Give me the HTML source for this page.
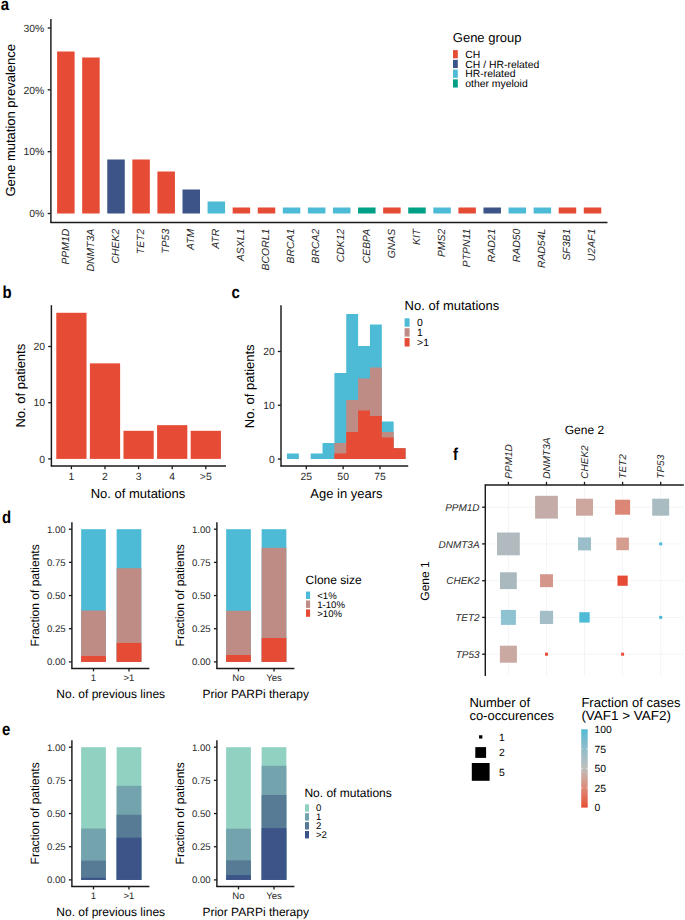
<!DOCTYPE html>
<html><head><meta charset="utf-8"><style>
html,body{margin:0;padding:0;background:#fff;}
svg{display:block;font-family:"Liberation Sans", sans-serif;text-rendering:geometricPrecision;}
</style></head><body>
<svg width="685" height="920" viewBox="0 0 685 920" shape-rendering="auto">
<rect width="685" height="920" fill="#fff"/>
<text transform="translate(0.80 10.20) scale(0.87 1)" font-size="17.2" font-weight="bold" fill="#000">a</text>
<text transform="translate(2.40 297.90) scale(0.87 1)" font-size="17.2" font-weight="bold" fill="#000">b</text>
<text transform="translate(231.60 298.20) scale(0.87 1)" font-size="17.2" font-weight="bold" fill="#000">c</text>
<text transform="translate(1.90 522.90) scale(0.87 1)" font-size="17.2" font-weight="bold" fill="#000">d</text>
<text transform="translate(1.90 735.20) scale(0.87 1)" font-size="17.2" font-weight="bold" fill="#000">e</text>
<text transform="translate(453.00 459.60) scale(0.87 1)" font-size="17.2" font-weight="bold" fill="#000">f</text>
<rect x="57.10" y="51.50" width="17.50" height="162.00" fill="#E64B35"/>
<text x="68.55" y="228.80" font-size="10.4" text-anchor="end" fill="#2A2A2A" font-style="italic" transform="rotate(-90 68.55 228.80)">PPM1D</text>
<rect x="82.18" y="57.50" width="17.50" height="156.00" fill="#E64B35"/>
<text x="93.63" y="228.80" font-size="10.4" text-anchor="end" fill="#2A2A2A" font-style="italic" transform="rotate(-90 93.63 228.80)">DNMT3A</text>
<rect x="107.26" y="159.50" width="17.50" height="54.00" fill="#3C5488"/>
<text x="118.71" y="228.80" font-size="10.4" text-anchor="end" fill="#2A2A2A" font-style="italic" transform="rotate(-90 118.71 228.80)">CHEK2</text>
<rect x="132.34" y="159.50" width="17.50" height="54.00" fill="#E64B35"/>
<text x="143.79" y="228.80" font-size="10.4" text-anchor="end" fill="#2A2A2A" font-style="italic" transform="rotate(-90 143.79 228.80)">TET2</text>
<rect x="157.42" y="171.50" width="17.50" height="42.00" fill="#E64B35"/>
<text x="168.87" y="228.80" font-size="10.4" text-anchor="end" fill="#2A2A2A" font-style="italic" transform="rotate(-90 168.87 228.80)">TP53</text>
<rect x="182.50" y="189.50" width="17.50" height="24.00" fill="#3C5488"/>
<text x="193.95" y="228.80" font-size="10.4" text-anchor="end" fill="#2A2A2A" font-style="italic" transform="rotate(-90 193.95 228.80)">ATM</text>
<rect x="207.58" y="201.50" width="17.50" height="12.00" fill="#4DBBD5"/>
<text x="219.03" y="228.80" font-size="10.4" text-anchor="end" fill="#2A2A2A" font-style="italic" transform="rotate(-90 219.03 228.80)">ATR</text>
<rect x="232.66" y="207.50" width="17.50" height="6.00" fill="#E64B35"/>
<text x="244.11" y="228.80" font-size="10.4" text-anchor="end" fill="#2A2A2A" font-style="italic" transform="rotate(-90 244.11 228.80)">ASXL1</text>
<rect x="257.74" y="207.50" width="17.50" height="6.00" fill="#E64B35"/>
<text x="269.19" y="228.80" font-size="10.4" text-anchor="end" fill="#2A2A2A" font-style="italic" transform="rotate(-90 269.19 228.80)">BCORL1</text>
<rect x="282.82" y="207.50" width="17.50" height="6.00" fill="#4DBBD5"/>
<text x="294.27" y="228.80" font-size="10.4" text-anchor="end" fill="#2A2A2A" font-style="italic" transform="rotate(-90 294.27 228.80)">BRCA1</text>
<rect x="307.90" y="207.50" width="17.50" height="6.00" fill="#4DBBD5"/>
<text x="319.35" y="228.80" font-size="10.4" text-anchor="end" fill="#2A2A2A" font-style="italic" transform="rotate(-90 319.35 228.80)">BRCA2</text>
<rect x="332.98" y="207.50" width="17.50" height="6.00" fill="#4DBBD5"/>
<text x="344.43" y="228.80" font-size="10.4" text-anchor="end" fill="#2A2A2A" font-style="italic" transform="rotate(-90 344.43 228.80)">CDK12</text>
<rect x="358.06" y="207.50" width="17.50" height="6.00" fill="#00A087"/>
<text x="369.51" y="228.80" font-size="10.4" text-anchor="end" fill="#2A2A2A" font-style="italic" transform="rotate(-90 369.51 228.80)">CEBPA</text>
<rect x="383.14" y="207.50" width="17.50" height="6.00" fill="#E64B35"/>
<text x="394.59" y="228.80" font-size="10.4" text-anchor="end" fill="#2A2A2A" font-style="italic" transform="rotate(-90 394.59 228.80)">GNAS</text>
<rect x="408.22" y="207.50" width="17.50" height="6.00" fill="#00A087"/>
<text x="419.67" y="228.80" font-size="10.4" text-anchor="end" fill="#2A2A2A" font-style="italic" transform="rotate(-90 419.67 228.80)">KIT</text>
<rect x="433.30" y="207.50" width="17.50" height="6.00" fill="#4DBBD5"/>
<text x="444.75" y="228.80" font-size="10.4" text-anchor="end" fill="#2A2A2A" font-style="italic" transform="rotate(-90 444.75 228.80)">PMS2</text>
<rect x="458.38" y="207.50" width="17.50" height="6.00" fill="#E64B35"/>
<text x="469.83" y="228.80" font-size="10.4" text-anchor="end" fill="#2A2A2A" font-style="italic" transform="rotate(-90 469.83 228.80)">PTPN11</text>
<rect x="483.46" y="207.50" width="17.50" height="6.00" fill="#3C5488"/>
<text x="494.91" y="228.80" font-size="10.4" text-anchor="end" fill="#2A2A2A" font-style="italic" transform="rotate(-90 494.91 228.80)">RAD21</text>
<rect x="508.54" y="207.50" width="17.50" height="6.00" fill="#4DBBD5"/>
<text x="519.99" y="228.80" font-size="10.4" text-anchor="end" fill="#2A2A2A" font-style="italic" transform="rotate(-90 519.99 228.80)">RAD50</text>
<rect x="533.62" y="207.50" width="17.50" height="6.00" fill="#4DBBD5"/>
<text x="545.07" y="228.80" font-size="10.4" text-anchor="end" fill="#2A2A2A" font-style="italic" transform="rotate(-90 545.07 228.80)">RAD54L</text>
<rect x="558.70" y="207.50" width="17.50" height="6.00" fill="#E64B35"/>
<text x="570.15" y="228.80" font-size="10.4" text-anchor="end" fill="#2A2A2A" font-style="italic" transform="rotate(-90 570.15 228.80)">SF3B1</text>
<rect x="583.78" y="207.50" width="17.50" height="6.00" fill="#E64B35"/>
<text x="595.23" y="228.80" font-size="10.4" text-anchor="end" fill="#2A2A2A" font-style="italic" transform="rotate(-90 595.23 228.80)">U2AF1</text>
<line x1="50.90" y1="18.90" x2="50.90" y2="222.90" stroke="#1a1a1a" stroke-width="1.45"/>
<line x1="50.40" y1="222.40" x2="607.50" y2="222.40" stroke="#1a1a1a" stroke-width="1.45"/>
<line x1="47.70" y1="213.50" x2="50.90" y2="213.50" stroke="#1a1a1a" stroke-width="1.3"/>
<text x="44.30" y="217.22" font-size="10.4" text-anchor="end" fill="#2A2A2A">0%</text>
<line x1="47.70" y1="151.67" x2="50.90" y2="151.67" stroke="#1a1a1a" stroke-width="1.3"/>
<text x="44.30" y="155.39" font-size="10.4" text-anchor="end" fill="#2A2A2A">10%</text>
<line x1="47.70" y1="89.84" x2="50.90" y2="89.84" stroke="#1a1a1a" stroke-width="1.3"/>
<text x="44.30" y="93.56" font-size="10.4" text-anchor="end" fill="#2A2A2A">20%</text>
<line x1="47.70" y1="28.01" x2="50.90" y2="28.01" stroke="#1a1a1a" stroke-width="1.3"/>
<text x="44.30" y="31.73" font-size="10.4" text-anchor="end" fill="#2A2A2A">30%</text>
<text x="15.40" y="120.30" font-size="13" text-anchor="middle" fill="#000000" transform="rotate(-90 15.40 120.30)">Gene mutation prevalence</text>
<text x="452.80" y="41.80" font-size="13" text-anchor="start" fill="#000000">Gene group</text>
<rect x="453.00" y="50.10" width="4.80" height="8.20" fill="#E64B35"/>
<text x="465.30" y="57.92" font-size="10.4" text-anchor="start" fill="#000000">CH</text>
<rect x="453.00" y="59.85" width="4.80" height="8.20" fill="#3C5488"/>
<text x="465.30" y="67.67" font-size="10.4" text-anchor="start" fill="#000000">CH / HR-related</text>
<rect x="453.00" y="69.60" width="4.80" height="8.20" fill="#4DBBD5"/>
<text x="465.30" y="77.42" font-size="10.4" text-anchor="start" fill="#000000">HR-related</text>
<rect x="453.00" y="79.35" width="4.80" height="8.20" fill="#00A087"/>
<text x="465.30" y="87.17" font-size="10.4" text-anchor="start" fill="#000000">other myeloid</text>
<rect x="56.28" y="312.78" width="30.24" height="146.12" fill="#E64B35"/>
<line x1="71.40" y1="466.00" x2="71.40" y2="469.20" stroke="#1a1a1a" stroke-width="1.3"/>
<text x="71.40" y="480.12" font-size="10.4" text-anchor="middle" fill="#2A2A2A">1</text>
<rect x="89.88" y="363.36" width="30.24" height="95.54" fill="#E64B35"/>
<line x1="105.00" y1="466.00" x2="105.00" y2="469.20" stroke="#1a1a1a" stroke-width="1.3"/>
<text x="105.00" y="480.12" font-size="10.4" text-anchor="middle" fill="#2A2A2A">2</text>
<rect x="123.48" y="430.80" width="30.24" height="28.10" fill="#E64B35"/>
<line x1="138.60" y1="466.00" x2="138.60" y2="469.20" stroke="#1a1a1a" stroke-width="1.3"/>
<text x="138.60" y="480.12" font-size="10.4" text-anchor="middle" fill="#2A2A2A">3</text>
<rect x="157.08" y="425.18" width="30.24" height="33.72" fill="#E64B35"/>
<line x1="172.20" y1="466.00" x2="172.20" y2="469.20" stroke="#1a1a1a" stroke-width="1.3"/>
<text x="172.20" y="480.12" font-size="10.4" text-anchor="middle" fill="#2A2A2A">4</text>
<rect x="190.68" y="430.80" width="30.24" height="28.10" fill="#E64B35"/>
<line x1="205.80" y1="466.00" x2="205.80" y2="469.20" stroke="#1a1a1a" stroke-width="1.3"/>
<text x="205.80" y="480.12" font-size="10.4" text-anchor="middle" fill="#2A2A2A">&gt;5</text>
<line x1="51.40" y1="305.20" x2="51.40" y2="466.50" stroke="#1a1a1a" stroke-width="1.45"/>
<line x1="50.90" y1="466.00" x2="226.00" y2="466.00" stroke="#1a1a1a" stroke-width="1.45"/>
<line x1="48.20" y1="458.90" x2="51.40" y2="458.90" stroke="#1a1a1a" stroke-width="1.3"/>
<text x="45.10" y="462.62" font-size="10.4" text-anchor="end" fill="#2A2A2A">0</text>
<line x1="48.20" y1="402.70" x2="51.40" y2="402.70" stroke="#1a1a1a" stroke-width="1.3"/>
<text x="45.10" y="406.42" font-size="10.4" text-anchor="end" fill="#2A2A2A">10</text>
<line x1="48.20" y1="346.50" x2="51.40" y2="346.50" stroke="#1a1a1a" stroke-width="1.3"/>
<text x="45.10" y="350.22" font-size="10.4" text-anchor="end" fill="#2A2A2A">20</text>
<text x="138.00" y="497.85" font-size="13" text-anchor="middle" fill="#000000">No. of mutations</text>
<text x="24.60" y="385.70" font-size="13" text-anchor="middle" fill="#000000" transform="rotate(-90 24.60 385.70)">No. of patients</text>
<path d="M287.00 459.00H298.85V453.62H287.00ZM310.70 459.00H322.55V453.62H310.70ZM322.55 459.00H334.40V442.88H322.55ZM334.40 459.00H346.25V373.00H334.40ZM346.25 459.00H358.10V313.88H346.25ZM358.10 459.00H369.95V346.12H358.10ZM369.95 459.00H381.80V324.62H369.95ZM381.80 459.00H393.65V421.38H381.80ZM393.65 459.00H405.50V448.25H393.65Z" fill="#4DBBD5"/>
<path d="M334.40 459.00H346.25V442.88H334.40ZM346.25 459.00H358.10V399.88H346.25ZM358.10 459.00H369.95V378.38H358.10ZM369.95 459.00H381.80V367.62H369.95ZM381.80 459.00H393.65V432.12H381.80ZM393.65 459.00H405.50V448.25H393.65Z" fill="#BF8C85"/>
<path d="M334.40 459.00H346.25V453.62H334.40ZM346.25 459.00H358.10V432.12H346.25ZM358.10 459.00H369.95V410.62H358.10ZM369.95 459.00H381.80V416.00H369.95ZM381.80 459.00H393.65V437.50H381.80ZM393.65 459.00H405.50V448.25H393.65Z" fill="#E64B35"/>
<line x1="281.00" y1="305.20" x2="281.00" y2="466.50" stroke="#1a1a1a" stroke-width="1.45"/>
<line x1="280.50" y1="466.00" x2="408.20" y2="466.00" stroke="#1a1a1a" stroke-width="1.45"/>
<line x1="277.80" y1="459.00" x2="281.00" y2="459.00" stroke="#1a1a1a" stroke-width="1.3"/>
<text x="274.70" y="462.72" font-size="10.4" text-anchor="end" fill="#2A2A2A">0</text>
<line x1="277.80" y1="405.25" x2="281.00" y2="405.25" stroke="#1a1a1a" stroke-width="1.3"/>
<text x="274.70" y="408.97" font-size="10.4" text-anchor="end" fill="#2A2A2A">10</text>
<line x1="277.80" y1="351.50" x2="281.00" y2="351.50" stroke="#1a1a1a" stroke-width="1.3"/>
<text x="274.70" y="355.22" font-size="10.4" text-anchor="end" fill="#2A2A2A">20</text>
<line x1="306.30" y1="466.00" x2="306.30" y2="469.20" stroke="#1a1a1a" stroke-width="1.3"/>
<text x="306.30" y="480.12" font-size="10.4" text-anchor="middle" fill="#2A2A2A">25</text>
<line x1="343.15" y1="466.00" x2="343.15" y2="469.20" stroke="#1a1a1a" stroke-width="1.3"/>
<text x="343.15" y="480.12" font-size="10.4" text-anchor="middle" fill="#2A2A2A">50</text>
<line x1="380.00" y1="466.00" x2="380.00" y2="469.20" stroke="#1a1a1a" stroke-width="1.3"/>
<text x="380.00" y="480.12" font-size="10.4" text-anchor="middle" fill="#2A2A2A">75</text>
<text x="346.40" y="498.15" font-size="13" text-anchor="middle" fill="#000000">Age in years</text>
<text x="254.00" y="386.30" font-size="13" text-anchor="middle" fill="#000000" transform="rotate(-90 254.00 386.30)">No. of patients</text>
<text x="404.60" y="309.80" font-size="13" text-anchor="start" fill="#000000">No. of mutations</text>
<rect x="404.60" y="318.30" width="5.00" height="8.40" fill="#4DBBD5"/>
<text x="417.10" y="326.22" font-size="10.4" text-anchor="start" fill="#000000">0</text>
<rect x="404.60" y="328.20" width="5.00" height="8.40" fill="#BF8C85"/>
<text x="417.10" y="336.12" font-size="10.4" text-anchor="start" fill="#000000">1</text>
<rect x="404.60" y="338.10" width="5.00" height="8.40" fill="#E64B35"/>
<text x="417.10" y="346.02" font-size="10.4" text-anchor="start" fill="#000000">&gt;1</text>
<rect x="81.15" y="529.20" width="24.70" height="132.70" fill="#4DBBD5"/>
<rect x="81.15" y="610.55" width="24.70" height="51.35" fill="#BF8C85"/>
<rect x="81.15" y="655.93" width="24.70" height="5.97" fill="#E64B35"/>
<line x1="93.50" y1="668.40" x2="93.50" y2="671.40" stroke="#1a1a1a" stroke-width="1.3"/>
<text x="93.50" y="681.34" font-size="9.6" text-anchor="middle" fill="#2A2A2A">1</text>
<rect x="116.65" y="529.20" width="24.70" height="132.70" fill="#4DBBD5"/>
<rect x="116.65" y="568.21" width="24.70" height="93.69" fill="#BF8C85"/>
<rect x="116.65" y="642.92" width="24.70" height="18.98" fill="#E64B35"/>
<line x1="129.00" y1="668.40" x2="129.00" y2="671.40" stroke="#1a1a1a" stroke-width="1.3"/>
<text x="129.00" y="681.34" font-size="9.6" text-anchor="middle" fill="#2A2A2A">&gt;1</text>
<line x1="71.90" y1="522.30" x2="71.90" y2="668.90" stroke="#1a1a1a" stroke-width="1.45"/>
<line x1="71.40" y1="668.40" x2="149.40" y2="668.40" stroke="#1a1a1a" stroke-width="1.45"/>
<line x1="68.90" y1="661.90" x2="71.90" y2="661.90" stroke="#1a1a1a" stroke-width="1.3"/>
<text x="65.70" y="665.34" font-size="9.6" text-anchor="end" fill="#2A2A2A">0.00</text>
<line x1="68.90" y1="628.73" x2="71.90" y2="628.73" stroke="#1a1a1a" stroke-width="1.3"/>
<text x="65.70" y="632.16" font-size="9.6" text-anchor="end" fill="#2A2A2A">0.25</text>
<line x1="68.90" y1="595.55" x2="71.90" y2="595.55" stroke="#1a1a1a" stroke-width="1.3"/>
<text x="65.70" y="598.99" font-size="9.6" text-anchor="end" fill="#2A2A2A">0.50</text>
<line x1="68.90" y1="562.38" x2="71.90" y2="562.38" stroke="#1a1a1a" stroke-width="1.3"/>
<text x="65.70" y="565.81" font-size="9.6" text-anchor="end" fill="#2A2A2A">0.75</text>
<line x1="68.90" y1="529.20" x2="71.90" y2="529.20" stroke="#1a1a1a" stroke-width="1.3"/>
<text x="65.70" y="532.64" font-size="9.6" text-anchor="end" fill="#2A2A2A">1.00</text>
<text x="110.70" y="697.50" font-size="12" text-anchor="middle" fill="#000000">No. of previous lines</text>
<text x="39.40" y="595.35" font-size="12" text-anchor="middle" fill="#000000" transform="rotate(-90 39.40 595.35)">Fraction of patients</text>
<rect x="226.15" y="529.20" width="24.70" height="132.70" fill="#4DBBD5"/>
<rect x="226.15" y="610.81" width="24.70" height="51.09" fill="#BF8C85"/>
<rect x="226.15" y="655.00" width="24.70" height="6.90" fill="#E64B35"/>
<line x1="238.50" y1="668.40" x2="238.50" y2="671.40" stroke="#1a1a1a" stroke-width="1.3"/>
<text x="238.50" y="681.34" font-size="9.6" text-anchor="middle" fill="#2A2A2A">No</text>
<rect x="261.65" y="529.20" width="24.70" height="132.70" fill="#4DBBD5"/>
<rect x="261.65" y="547.78" width="24.70" height="114.12" fill="#BF8C85"/>
<rect x="261.65" y="638.01" width="24.70" height="23.89" fill="#E64B35"/>
<line x1="274.00" y1="668.40" x2="274.00" y2="671.40" stroke="#1a1a1a" stroke-width="1.3"/>
<text x="274.00" y="681.34" font-size="9.6" text-anchor="middle" fill="#2A2A2A">Yes</text>
<line x1="216.90" y1="522.30" x2="216.90" y2="668.90" stroke="#1a1a1a" stroke-width="1.45"/>
<line x1="216.40" y1="668.40" x2="294.40" y2="668.40" stroke="#1a1a1a" stroke-width="1.45"/>
<line x1="213.90" y1="661.90" x2="216.90" y2="661.90" stroke="#1a1a1a" stroke-width="1.3"/>
<text x="210.70" y="665.34" font-size="9.6" text-anchor="end" fill="#2A2A2A">0.00</text>
<line x1="213.90" y1="628.73" x2="216.90" y2="628.73" stroke="#1a1a1a" stroke-width="1.3"/>
<text x="210.70" y="632.16" font-size="9.6" text-anchor="end" fill="#2A2A2A">0.25</text>
<line x1="213.90" y1="595.55" x2="216.90" y2="595.55" stroke="#1a1a1a" stroke-width="1.3"/>
<text x="210.70" y="598.99" font-size="9.6" text-anchor="end" fill="#2A2A2A">0.50</text>
<line x1="213.90" y1="562.38" x2="216.90" y2="562.38" stroke="#1a1a1a" stroke-width="1.3"/>
<text x="210.70" y="565.81" font-size="9.6" text-anchor="end" fill="#2A2A2A">0.75</text>
<line x1="213.90" y1="529.20" x2="216.90" y2="529.20" stroke="#1a1a1a" stroke-width="1.3"/>
<text x="210.70" y="532.64" font-size="9.6" text-anchor="end" fill="#2A2A2A">1.00</text>
<text x="255.70" y="697.50" font-size="12" text-anchor="middle" fill="#000000">Prior PARPi therapy</text>
<text x="184.40" y="595.35" font-size="12" text-anchor="middle" fill="#000000" transform="rotate(-90 184.40 595.35)">Fraction of patients</text>
<text x="305.60" y="584.00" font-size="12" text-anchor="start" fill="#000000">Clone size</text>
<rect x="306.00" y="591.60" width="4.10" height="7.40" fill="#4DBBD5"/>
<text x="317.20" y="598.74" font-size="9.6" text-anchor="start" fill="#000000">&lt;1%</text>
<rect x="306.00" y="600.50" width="4.10" height="7.40" fill="#BF8C85"/>
<text x="317.20" y="607.64" font-size="9.6" text-anchor="start" fill="#000000">1-10%</text>
<rect x="306.00" y="609.40" width="4.10" height="7.40" fill="#E64B35"/>
<text x="317.20" y="616.54" font-size="9.6" text-anchor="start" fill="#000000">&gt;10%</text>
<rect x="81.15" y="747.20" width="24.70" height="132.70" fill="#91D1C2"/>
<rect x="81.15" y="828.55" width="24.70" height="51.35" fill="#73A3AC"/>
<rect x="81.15" y="860.66" width="24.70" height="19.24" fill="#577A95"/>
<rect x="81.15" y="877.78" width="24.70" height="2.12" fill="#3C5488"/>
<line x1="93.50" y1="886.40" x2="93.50" y2="889.40" stroke="#1a1a1a" stroke-width="1.3"/>
<text x="93.50" y="899.34" font-size="9.6" text-anchor="middle" fill="#2A2A2A">1</text>
<rect x="116.65" y="747.20" width="24.70" height="132.70" fill="#91D1C2"/>
<rect x="116.65" y="785.82" width="24.70" height="94.08" fill="#73A3AC"/>
<rect x="116.65" y="814.74" width="24.70" height="65.16" fill="#577A95"/>
<rect x="116.65" y="837.70" width="24.70" height="42.20" fill="#3C5488"/>
<line x1="129.00" y1="886.40" x2="129.00" y2="889.40" stroke="#1a1a1a" stroke-width="1.3"/>
<text x="129.00" y="899.34" font-size="9.6" text-anchor="middle" fill="#2A2A2A">&gt;1</text>
<line x1="71.90" y1="740.30" x2="71.90" y2="886.90" stroke="#1a1a1a" stroke-width="1.45"/>
<line x1="71.40" y1="886.40" x2="149.40" y2="886.40" stroke="#1a1a1a" stroke-width="1.45"/>
<line x1="68.90" y1="879.90" x2="71.90" y2="879.90" stroke="#1a1a1a" stroke-width="1.3"/>
<text x="65.70" y="883.34" font-size="9.6" text-anchor="end" fill="#2A2A2A">0.00</text>
<line x1="68.90" y1="846.73" x2="71.90" y2="846.73" stroke="#1a1a1a" stroke-width="1.3"/>
<text x="65.70" y="850.16" font-size="9.6" text-anchor="end" fill="#2A2A2A">0.25</text>
<line x1="68.90" y1="813.55" x2="71.90" y2="813.55" stroke="#1a1a1a" stroke-width="1.3"/>
<text x="65.70" y="816.99" font-size="9.6" text-anchor="end" fill="#2A2A2A">0.50</text>
<line x1="68.90" y1="780.38" x2="71.90" y2="780.38" stroke="#1a1a1a" stroke-width="1.3"/>
<text x="65.70" y="783.81" font-size="9.6" text-anchor="end" fill="#2A2A2A">0.75</text>
<line x1="68.90" y1="747.20" x2="71.90" y2="747.20" stroke="#1a1a1a" stroke-width="1.3"/>
<text x="65.70" y="750.64" font-size="9.6" text-anchor="end" fill="#2A2A2A">1.00</text>
<text x="110.70" y="915.50" font-size="12" text-anchor="middle" fill="#000000">No. of previous lines</text>
<text x="39.40" y="813.35" font-size="12" text-anchor="middle" fill="#000000" transform="rotate(-90 39.40 813.35)">Fraction of patients</text>
<rect x="226.15" y="747.20" width="24.70" height="132.70" fill="#91D1C2"/>
<rect x="226.15" y="828.68" width="24.70" height="51.22" fill="#73A3AC"/>
<rect x="226.15" y="860.39" width="24.70" height="19.51" fill="#577A95"/>
<rect x="226.15" y="875.12" width="24.70" height="4.78" fill="#3C5488"/>
<line x1="238.50" y1="886.40" x2="238.50" y2="889.40" stroke="#1a1a1a" stroke-width="1.3"/>
<text x="238.50" y="899.34" font-size="9.6" text-anchor="middle" fill="#2A2A2A">No</text>
<rect x="261.65" y="747.20" width="24.70" height="132.70" fill="#91D1C2"/>
<rect x="261.65" y="765.78" width="24.70" height="114.12" fill="#73A3AC"/>
<rect x="261.65" y="794.97" width="24.70" height="84.93" fill="#577A95"/>
<rect x="261.65" y="828.15" width="24.70" height="51.75" fill="#3C5488"/>
<line x1="274.00" y1="886.40" x2="274.00" y2="889.40" stroke="#1a1a1a" stroke-width="1.3"/>
<text x="274.00" y="899.34" font-size="9.6" text-anchor="middle" fill="#2A2A2A">Yes</text>
<line x1="216.90" y1="740.30" x2="216.90" y2="886.90" stroke="#1a1a1a" stroke-width="1.45"/>
<line x1="216.40" y1="886.40" x2="294.40" y2="886.40" stroke="#1a1a1a" stroke-width="1.45"/>
<line x1="213.90" y1="879.90" x2="216.90" y2="879.90" stroke="#1a1a1a" stroke-width="1.3"/>
<text x="210.70" y="883.34" font-size="9.6" text-anchor="end" fill="#2A2A2A">0.00</text>
<line x1="213.90" y1="846.73" x2="216.90" y2="846.73" stroke="#1a1a1a" stroke-width="1.3"/>
<text x="210.70" y="850.16" font-size="9.6" text-anchor="end" fill="#2A2A2A">0.25</text>
<line x1="213.90" y1="813.55" x2="216.90" y2="813.55" stroke="#1a1a1a" stroke-width="1.3"/>
<text x="210.70" y="816.99" font-size="9.6" text-anchor="end" fill="#2A2A2A">0.50</text>
<line x1="213.90" y1="780.38" x2="216.90" y2="780.38" stroke="#1a1a1a" stroke-width="1.3"/>
<text x="210.70" y="783.81" font-size="9.6" text-anchor="end" fill="#2A2A2A">0.75</text>
<line x1="213.90" y1="747.20" x2="216.90" y2="747.20" stroke="#1a1a1a" stroke-width="1.3"/>
<text x="210.70" y="750.64" font-size="9.6" text-anchor="end" fill="#2A2A2A">1.00</text>
<text x="255.70" y="915.50" font-size="12" text-anchor="middle" fill="#000000">Prior PARPi therapy</text>
<text x="184.40" y="813.35" font-size="12" text-anchor="middle" fill="#000000" transform="rotate(-90 184.40 813.35)">Fraction of patients</text>
<text x="304.40" y="797.20" font-size="12" text-anchor="start" fill="#000000">No. of mutations</text>
<rect x="305.00" y="804.30" width="4.00" height="7.40" fill="#91D1C2"/>
<text x="316.00" y="811.44" font-size="9.6" text-anchor="start" fill="#000000">0</text>
<rect x="305.00" y="813.20" width="4.00" height="7.40" fill="#73A3AC"/>
<text x="316.00" y="820.34" font-size="9.6" text-anchor="start" fill="#000000">1</text>
<rect x="305.00" y="822.10" width="4.00" height="7.40" fill="#577A95"/>
<text x="316.00" y="829.24" font-size="9.6" text-anchor="start" fill="#000000">2</text>
<rect x="305.00" y="831.00" width="4.00" height="7.40" fill="#3C5488"/>
<text x="316.00" y="838.14" font-size="9.6" text-anchor="start" fill="#000000">&gt;2</text>
<line x1="508.40" y1="485.00" x2="508.40" y2="676.00" stroke="#EBEBEB" stroke-width="0.55"/>
<line x1="546.50" y1="485.00" x2="546.50" y2="676.00" stroke="#EBEBEB" stroke-width="0.55"/>
<line x1="584.50" y1="485.00" x2="584.50" y2="676.00" stroke="#EBEBEB" stroke-width="0.55"/>
<line x1="622.60" y1="485.00" x2="622.60" y2="676.00" stroke="#EBEBEB" stroke-width="0.55"/>
<line x1="660.70" y1="485.00" x2="660.70" y2="676.00" stroke="#EBEBEB" stroke-width="0.55"/>
<line x1="485.30" y1="507.20" x2="683.50" y2="507.20" stroke="#EBEBEB" stroke-width="0.55"/>
<line x1="485.30" y1="543.90" x2="683.50" y2="543.90" stroke="#EBEBEB" stroke-width="0.55"/>
<line x1="485.30" y1="580.70" x2="683.50" y2="580.70" stroke="#EBEBEB" stroke-width="0.55"/>
<line x1="485.30" y1="617.40" x2="683.50" y2="617.40" stroke="#EBEBEB" stroke-width="0.55"/>
<line x1="485.30" y1="654.20" x2="683.50" y2="654.20" stroke="#EBEBEB" stroke-width="0.55"/>
<rect x="535.10" y="495.80" width="22.80" height="22.80" fill="#C4ADA8"/>
<rect x="576.00" y="498.70" width="17.00" height="17.00" fill="#CDA69E"/>
<rect x="615.10" y="499.70" width="15.00" height="15.00" fill="#DC8776"/>
<rect x="652.20" y="498.70" width="17.00" height="17.00" fill="#A9BCC2"/>
<rect x="497.00" y="532.50" width="22.80" height="22.80" fill="#B1BBBF"/>
<rect x="578.00" y="537.40" width="13.00" height="13.00" fill="#9BBFCA"/>
<rect x="616.30" y="537.60" width="12.60" height="12.60" fill="#D59C90"/>
<rect x="659.20" y="542.40" width="3.00" height="3.00" fill="#4DBBD5"/>
<rect x="500.00" y="572.30" width="16.80" height="16.80" fill="#AAB9BE"/>
<rect x="540.05" y="574.25" width="12.90" height="12.90" fill="#D4968A"/>
<rect x="617.50" y="575.60" width="10.20" height="10.20" fill="#E64B35"/>
<rect x="500.90" y="609.90" width="15.00" height="15.00" fill="#8FC3D1"/>
<rect x="539.90" y="610.80" width="13.20" height="13.20" fill="#A3BEC6"/>
<rect x="579.30" y="612.20" width="10.40" height="10.40" fill="#4DBBD5"/>
<rect x="659.20" y="615.90" width="3.00" height="3.00" fill="#4DBBD5"/>
<rect x="499.90" y="645.70" width="17.00" height="17.00" fill="#C9A9A2"/>
<rect x="545.00" y="652.70" width="3.00" height="3.00" fill="#E64B35"/>
<rect x="621.10" y="652.70" width="3.00" height="3.00" fill="#E64B35"/>
<line x1="485.30" y1="484.50" x2="485.30" y2="676.00" stroke="#1a1a1a" stroke-width="1.45"/>
<line x1="484.80" y1="485.00" x2="683.80" y2="485.00" stroke="#1a1a1a" stroke-width="1.45"/>
<line x1="508.40" y1="481.80" x2="508.40" y2="485.00" stroke="#1a1a1a" stroke-width="1.3"/>
<text x="512.00" y="478.70" font-size="10" text-anchor="start" fill="#2A2A2A" font-style="italic" transform="rotate(-90 512.00 478.70)">PPM1D</text>
<line x1="482.10" y1="507.20" x2="485.30" y2="507.20" stroke="#1a1a1a" stroke-width="1.3"/>
<text x="479.60" y="510.88" font-size="10" text-anchor="end" fill="#2A2A2A" font-style="italic">PPM1D</text>
<line x1="546.50" y1="481.80" x2="546.50" y2="485.00" stroke="#1a1a1a" stroke-width="1.3"/>
<text x="550.10" y="478.70" font-size="10" text-anchor="start" fill="#2A2A2A" font-style="italic" transform="rotate(-90 550.10 478.70)">DNMT3A</text>
<line x1="482.10" y1="543.90" x2="485.30" y2="543.90" stroke="#1a1a1a" stroke-width="1.3"/>
<text x="479.60" y="547.58" font-size="10" text-anchor="end" fill="#2A2A2A" font-style="italic">DNMT3A</text>
<line x1="584.50" y1="481.80" x2="584.50" y2="485.00" stroke="#1a1a1a" stroke-width="1.3"/>
<text x="588.10" y="478.70" font-size="10" text-anchor="start" fill="#2A2A2A" font-style="italic" transform="rotate(-90 588.10 478.70)">CHEK2</text>
<line x1="482.10" y1="580.70" x2="485.30" y2="580.70" stroke="#1a1a1a" stroke-width="1.3"/>
<text x="479.60" y="584.38" font-size="10" text-anchor="end" fill="#2A2A2A" font-style="italic">CHEK2</text>
<line x1="622.60" y1="481.80" x2="622.60" y2="485.00" stroke="#1a1a1a" stroke-width="1.3"/>
<text x="626.20" y="478.70" font-size="10" text-anchor="start" fill="#2A2A2A" font-style="italic" transform="rotate(-90 626.20 478.70)">TET2</text>
<line x1="482.10" y1="617.40" x2="485.30" y2="617.40" stroke="#1a1a1a" stroke-width="1.3"/>
<text x="479.60" y="621.08" font-size="10" text-anchor="end" fill="#2A2A2A" font-style="italic">TET2</text>
<line x1="660.70" y1="481.80" x2="660.70" y2="485.00" stroke="#1a1a1a" stroke-width="1.3"/>
<text x="664.30" y="478.70" font-size="10" text-anchor="start" fill="#2A2A2A" font-style="italic" transform="rotate(-90 664.30 478.70)">TP53</text>
<line x1="482.10" y1="654.20" x2="485.30" y2="654.20" stroke="#1a1a1a" stroke-width="1.3"/>
<text x="479.60" y="657.88" font-size="10" text-anchor="end" fill="#2A2A2A" font-style="italic">TP53</text>
<text x="584.40" y="433.90" font-size="12" text-anchor="middle" fill="#000000">Gene 2</text>
<text x="429.40" y="581.00" font-size="12" text-anchor="middle" fill="#000000" transform="rotate(-90 429.40 581.00)">Gene 1</text>
<text x="469.40" y="706.50" font-size="13" text-anchor="start" fill="#000000">Number of</text>
<text x="469.40" y="720.00" font-size="13" text-anchor="start" fill="#000000">co-occurences</text>
<rect x="479.05" y="735.25" width="3.30" height="3.30" fill="#000"/>
<text x="498.90" y="740.72" font-size="10.4" text-anchor="start" fill="#000000">1</text>
<rect x="475.30" y="747.10" width="10.80" height="10.80" fill="#000"/>
<text x="498.90" y="756.32" font-size="10.4" text-anchor="start" fill="#000000">2</text>
<rect x="471.80" y="763.00" width="17.80" height="17.80" fill="#000"/>
<text x="498.90" y="775.72" font-size="10.4" text-anchor="start" fill="#000000">5</text>
<text x="581.40" y="706.50" font-size="13" text-anchor="start" fill="#000000">Fraction of cases</text>
<text x="581.40" y="720.40" font-size="13" text-anchor="start" fill="#000000" textLength="89.6" lengthAdjust="spacingAndGlyphs">(VAF1 &gt; VAF2)</text>
<defs><linearGradient id="cb" x1="0" y1="0" x2="0" y2="1"><stop offset="0.000" stop-color="#4DBBD5"/><stop offset="0.050" stop-color="#5FBBD3"/><stop offset="0.100" stop-color="#6DBCD0"/><stop offset="0.150" stop-color="#7ABCCE"/><stop offset="0.200" stop-color="#86BDCC"/><stop offset="0.250" stop-color="#90BDCA"/><stop offset="0.300" stop-color="#9BBDC7"/><stop offset="0.350" stop-color="#A4BDC5"/><stop offset="0.400" stop-color="#ADBEC3"/><stop offset="0.450" stop-color="#B6BEC0"/><stop offset="0.500" stop-color="#BEBEBE"/><stop offset="0.550" stop-color="#C6B4B0"/><stop offset="0.600" stop-color="#CDAAA1"/><stop offset="0.650" stop-color="#D39F93"/><stop offset="0.700" stop-color="#D89585"/><stop offset="0.750" stop-color="#DC8A78"/><stop offset="0.800" stop-color="#DF7F6A"/><stop offset="0.850" stop-color="#E2735D"/><stop offset="0.900" stop-color="#E4674F"/><stop offset="0.950" stop-color="#E55A42"/><stop offset="1.000" stop-color="#E64B35"/></linearGradient></defs>
<rect x="581.20" y="729.30" width="6.50" height="78.30" fill="url(#cb)"/>
<text x="594.40" y="733.22" font-size="10.4" text-anchor="start" fill="#000000">100</text>
<line x1="581.20" y1="748.90" x2="582.60" y2="748.90" stroke="#fff" stroke-width="0.6"/>
<line x1="586.30" y1="748.90" x2="587.70" y2="748.90" stroke="#fff" stroke-width="0.6"/>
<text x="594.40" y="752.62" font-size="10.4" text-anchor="start" fill="#000000">75</text>
<line x1="581.20" y1="768.50" x2="582.60" y2="768.50" stroke="#fff" stroke-width="0.6"/>
<line x1="586.30" y1="768.50" x2="587.70" y2="768.50" stroke="#fff" stroke-width="0.6"/>
<text x="594.40" y="772.22" font-size="10.4" text-anchor="start" fill="#000000">50</text>
<line x1="581.20" y1="787.80" x2="582.60" y2="787.80" stroke="#fff" stroke-width="0.6"/>
<line x1="586.30" y1="787.80" x2="587.70" y2="787.80" stroke="#fff" stroke-width="0.6"/>
<text x="594.40" y="791.52" font-size="10.4" text-anchor="start" fill="#000000">25</text>
<text x="594.40" y="811.32" font-size="10.4" text-anchor="start" fill="#000000">0</text>
</svg></body></html>
